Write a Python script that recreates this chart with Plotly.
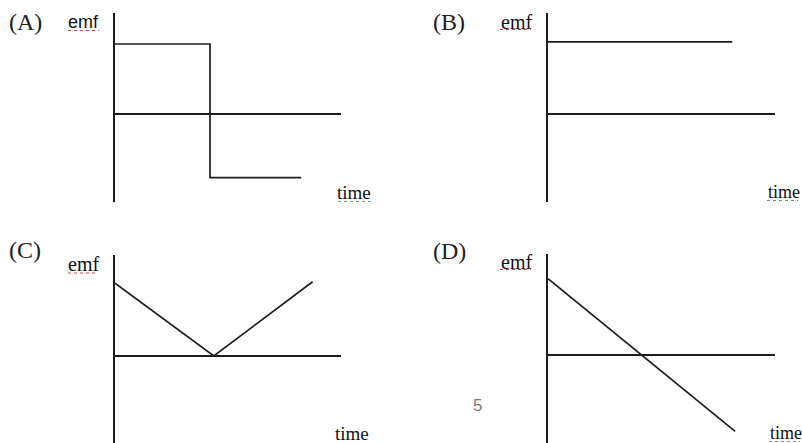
import plotly.graph_objects as go

# ---- data (emf in arbitrary units, time in arbitrary units)
panel_labels = ["(A)", "(B)", "(C)", "(D)"]
a_time = [0, 1.0, 1.0, 1.96]
a_emf = [1.0, 1.0, -0.91, -0.91]
b_time = [0, 1.94]
b_emf = [1.03, 1.03]
c_time = [0, 1.04, 2.08]
c_emf = [1.04, 0, 1.06]
d_time = [0, 1.97]
d_emf = [1.09, -1.09]
y_label = "emf"
x_label = "time"
page_number = "5"

W, H = 802, 443
PX_PER_T = 95.0
PX_PER_E = 70.0
LINE = "#1c1c1c"
LW = 1.7


def fx(px):
    return px / W


def fy(py):
    return 1 - py / H


# subplot geometry in pixels: left, right, top, bottom, zero-line y
geo = [
    (115, 341, 13, 202, 114),
    (548, 775, 13, 202, 114),
    (115, 341, 255, 443, 356),
    (548, 775, 254, 443, 355),
]
series = [(a_time, a_emf), (b_time, b_emf), (c_time, c_emf), (d_time, d_emf)]

fig = go.Figure()
layout = dict(
    width=W, height=H, margin=dict(l=0, r=0, t=0, b=0),
    paper_bgcolor="white", plot_bgcolor="rgba(0,0,0,0)", showlegend=False,
)
for i, ((l, r, t, b, z), (tt, ee)) in enumerate(zip(geo, series), start=1):
    xa = "xaxis" if i == 1 else f"xaxis{i}"
    ya = "yaxis" if i == 1 else f"yaxis{i}"
    layout[xa] = dict(domain=[fx(l), fx(r)], range=[0, (r - l) / PX_PER_T],
                      visible=False, anchor="y" if i == 1 else f"y{i}", fixedrange=True)
    layout[ya] = dict(domain=[fy(b), fy(t)],
                      range=[-(b - z) / PX_PER_E, (z - t) / PX_PER_E],
                      anchor="x" if i == 1 else f"x{i}",
                      showticklabels=False, ticks="", showgrid=False,
                      showline=True, linecolor=LINE, linewidth=LW,
                      zeroline=True, zerolinecolor=LINE, zerolinewidth=LW,
                      fixedrange=True)
    fig.add_trace(go.Scatter(x=tt, y=ee, mode="lines",
                             line=dict(color=LINE, width=LW),
                             xaxis="x" if i == 1 else f"x{i}",
                             yaxis="y" if i == 1 else f"y{i}",
                             hoverinfo="skip"))

serif = "Liberation Serif"
sans = "Liberation Sans"
ann = []


def text(s, cx, cy, size, family, color="#111111", xanchor="center"):
    ann.append(dict(text=s, x=fx(cx), y=fy(cy), xref="paper", yref="paper",
                    xanchor=xanchor, yanchor="middle", showarrow=False,
                    font=dict(family=family, size=size, color=color)))


for lab, (cx, cy) in zip(panel_labels, [(25, 22), (449, 22), (25, 250), (449, 251)]):
    text(lab, cx, cy, 24, serif, "#222222")

text(y_label, 83.5, 22, 18, sans)
text(y_label, 516, 22, 20, serif)
text(y_label, 83, 264, 20, serif)
text(y_label, 516, 262, 20, serif)
text(x_label, 354, 192, 19, serif)
text(x_label, 766, 192, 18, serif, xanchor="left")
text(x_label, 352, 433, 19, serif)
text(x_label, 768, 433, 18, serif, xanchor="left")
text(page_number, 478, 405, 17, sans, "#7a7a7a")

# spell-check style wavy underlines
shapes = []
for (x0, x1, y, c) in [(68, 99, 30.5, "#d04040"), (500, 531, 29.5, "#d04040"),
                       (68, 97, 273, "#d04040"), (500, 531, 269.5, "#d04040"),
                       (338, 371, 201.5, "#5aa05a"), (767, 798, 200.5, "#5aa05a"),
                       (769, 800, 441.5, "#5aa05a")]:
    shapes.append(dict(type="line", xref="paper", yref="paper",
                       x0=fx(x0), x1=fx(x1), y0=fy(y), y1=fy(y),
                       line=dict(color=c, width=1, dash="dot")))

layout["annotations"] = ann
layout["shapes"] = shapes
fig.update_layout(**layout)
fig.write_html("out.html", config={"displayModeBar": False},
               post_script="document.body.style.margin='0px';document.body.style.overflow='hidden';")
